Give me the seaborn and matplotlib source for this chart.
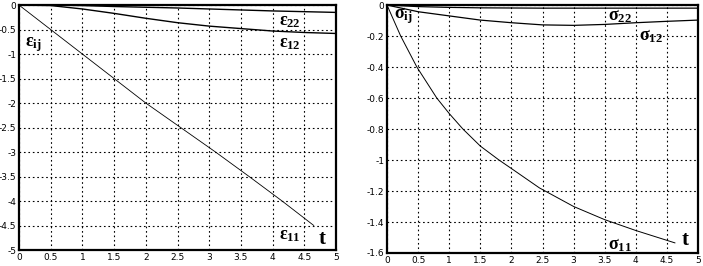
import numpy as np
import pandas as pd
import matplotlib
matplotlib.use('Agg')
import matplotlib.pyplot as plt
import seaborn as sns
from matplotlib.ticker import FuncFormatter

# strain curves (left panel)
t_e11 = [0, 0.5, 1.0, 2.0, 2.55, 3.1, 3.63, 4.15, 4.65]
eps11 = [0, -0.5, -1.0, -2.0, -2.5, -3.0, -3.5, -4.0, -4.5]
t_e = [0, 0.5, 1.0, 1.5, 2.0, 2.5, 3.0, 3.5, 4.0, 4.5, 5.0]
eps12 = [0, -0.01, -0.08, -0.17, -0.27, -0.36, -0.43, -0.48, -0.53, -0.56, -0.58]
eps22 = [0, 0, -0.01, -0.03, -0.045, -0.06, -0.08, -0.10, -0.12, -0.135, -0.15]

# stress curves (right panel)
t_s11 = [0, 0.22, 0.48, 0.8, 1.0, 1.22, 1.5, 1.8, 2.0, 2.45, 3.0, 3.5, 4.0, 4.63]
sig11 = [0, -0.2, -0.4, -0.6, -0.7, -0.8, -0.91, -1.0, -1.055, -1.18, -1.30, -1.385, -1.455, -1.535]
t_s = [0, 0.5, 1.0, 1.5, 2.0, 2.5, 3.0, 3.5, 4.0, 4.5, 5.0]
sig12 = [0, -0.043, -0.07, -0.097, -0.114, -0.128, -0.131, -0.125, -0.114, -0.105, -0.097]
sig22 = [0, -0.01, -0.015, -0.018, -0.019, -0.02, -0.02, -0.02, -0.02, -0.02, -0.02]

x_ticks = [0, 0.5, 1, 1.5, 2, 2.5, 3, 3.5, 4, 4.5, 5]
left_yticks = [0, -0.5, -1, -1.5, -2, -2.5, -3, -3.5, -4, -4.5, -5]
right_yticks = [0, -0.2, -0.4, -0.6, -0.8, -1, -1.2, -1.4, -1.6]

sns.set_style('white')
plt.rcParams['font.family'] = ['DejaVu Sans']
plt.rcParams['axes.unicode_minus'] = False
plt.rcParams['mathtext.fontset'] = 'custom'
plt.rcParams['mathtext.rm'] = 'Liberation Serif:bold'
plt.rcParams['mathtext.it'] = 'Liberation Serif:bold'
plt.rcParams['mathtext.bf'] = 'Liberation Serif:bold'

fig = plt.figure(figsize=(7.03, 2.66), dpi=100)
ax1 = fig.add_axes([0.027, 0.060, 0.451, 0.921])
ax2 = fig.add_axes([0.5505, 0.0489, 0.4425, 0.9321])

fmt = FuncFormatter(lambda v, p: '%g' % v)


def style(ax, yticks):
    ax.set_xlim(0, 5)
    ax.set_ylim(yticks[-1], 0)
    ax.set_xticks(x_ticks)
    ax.set_yticks(yticks)
    ax.xaxis.set_major_formatter(fmt)
    ax.yaxis.set_major_formatter(fmt)
    ax.grid(True, color='black', linestyle=(0, (1.5, 2.5)), linewidth=0.8)
    ax.tick_params(length=0, labelsize=6.5, pad=2, colors='black')
    for s in ax.spines.values():
        s.set_color('black')
        s.set_linewidth(1.6)
    ax.set_xlabel('')
    ax.set_ylabel('')


sns.lineplot(x=t_e11, y=eps11, ax=ax1, color='black', linewidth=0.6)
sns.lineplot(x=t_e, y=eps12, ax=ax1, color='black', linewidth=1.0)
sns.lineplot(x=t_e, y=eps22, ax=ax1, color='black', linewidth=1.0)
style(ax1, left_yticks)

sns.lineplot(x=t_s11, y=sig11, ax=ax2, color='black', linewidth=0.7)
sns.lineplot(x=t_s, y=sig12, ax=ax2, color='black', linewidth=0.9)
sns.lineplot(x=t_s, y=sig22, ax=ax2, color='black', linewidth=0.9)
style(ax2, right_yticks)

lab = dict(fontsize=13, color='black', va='center', ha='left')
ax1.text(0.1, -0.8, r'$ε_{ij}$', **lab)
ax1.text(4.1, -0.33, r'$ε_{22}$', **lab)
ax1.text(4.1, -0.77, r'$ε_{12}$', **lab)
ax1.text(4.1, -4.7, r'$ε_{11}$', **lab)
ax1.text(4.72, -4.75, r'$\mathrm{t}$', fontsize=15, color='black', va='center', ha='left')

ax2.text(0.12, -0.07, r'$σ_{ij}$', **lab)
ax2.text(3.55, -0.07, r'$σ_{22}$', **lab)
ax2.text(4.05, -0.2, r'$σ_{12}$', **lab)
ax2.text(3.55, -1.55, r'$σ_{11}$', **lab)
ax2.text(4.72, -1.51, r'$\mathrm{t}$', fontsize=15, color='black', va='center', ha='left')

fig.savefig('out.png', dpi=100)
